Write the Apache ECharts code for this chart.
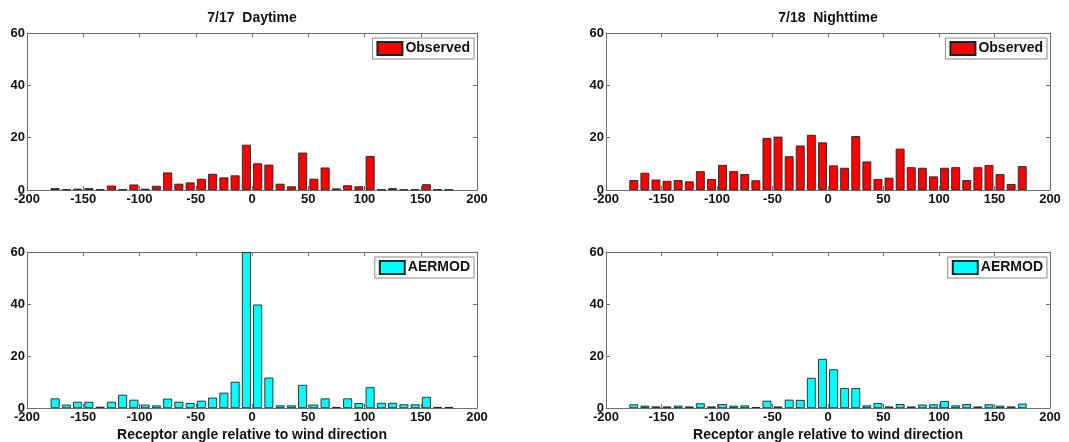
<!DOCTYPE html>
<html>
<head>
<meta charset="utf-8">
<script src="https://cdn.jsdelivr.net/npm/echarts@6/dist/echarts.min.js"></script>
<style>
  html, body { margin: 0; padding: 0; background: #fff; }
  #chart { width: 1069px; height: 442px; }
</style>
</head>
<body>
<div id="chart"></div>
<script>
// Bin centres (degrees), 10-degree bins
const binCenters = [-175, -165, -155, -145, -135, -125, -115, -105, -95, -85, -75, -65, -55, -45, -35, -25, -15, -5,
                    5, 15, 25, 35, 45, 55, 65, 75, 85, 95, 105, 115, 125, 135, 145, 155, 165, 175];

// 7/17 daytime, observed counts
const obsDay = [0.7, 0.2, 0.5, 0.7, 0.2, 1.7, 0.2, 2.1, 0.5, 1.6, 6.7, 2.4, 2.9, 4.3, 6.2, 4.8, 5.6, 17.3,
                10.2, 9.7, 2.4, 1.4, 14.3, 4.3, 8.6, 0.6, 1.8, 1.4, 13.0, 0.2, 0.7, 0.2, 0.2, 2.2, 0.2, 0.2];

// 7/18 nighttime, observed counts
const obsNight = [3.8, 6.6, 4.0, 3.5, 3.8, 3.3, 7.2, 4.2, 9.6, 7.2, 6.1, 3.7, 19.9, 20.4, 12.9, 17.0, 21.1, 18.2,
                  9.4, 8.5, 20.6, 10.9, 4.2, 4.7, 15.8, 8.7, 8.5, 5.2, 8.5, 8.7, 3.8, 8.7, 9.5, 6.1, 2.3, 9.1];

// 7/17 daytime, AERMOD counts
const modDay = [3.7, 1.3, 2.4, 2.4, 0.5, 2.4, 5.1, 3.2, 1.3, 1.0, 3.6, 2.4, 1.9, 2.8, 4.0, 5.9, 10.1, 60,
                39.8, 11.7, 1.0, 1.0, 8.9, 1.3, 3.7, 0.4, 3.7, 1.9, 8.0, 2.0, 2.0, 1.4, 1.4, 4.3, 0.4, 0.4];

// 7/18 nighttime, AERMOD counts
const modNight = [1.4, 0.9, 0.6, 0.6, 0.9, 0.6, 1.8, 0.6, 1.5, 0.9, 1.0, 0.4, 2.8, 0.6, 3.2, 3.1, 11.6, 18.9,
                  14.9, 7.7, 7.7, 1.0, 1.9, 0.6, 1.5, 0.6, 1.3, 1.4, 2.7, 1.0, 1.5, 0.6, 1.4, 0.9, 0.6, 1.7];

const xTicks = { min: -200, max: 200, interval: 50 };
const yTicks = { min: 0, max: 60, interval: 20 };

const panelTitles = ['7/17  Daytime', '7/18  Nighttime'];
const xAxisTitle = 'Receptor angle relative to wind direction';

const FONT = '"Liberation Sans", Arial, sans-serif';
const AXIS_GRAY = '#6f6f6f';
const RED = '#ff0000';
const CYAN = '#00ffff';
const W = 1069;

const grids = [
  { left: 27, top: 33, width: 450, height: 157 },
  { left: 606, top: 33, width: 444, height: 157 },
  { left: 27, top: 252, width: 450, height: 156 },
  { left: 606, top: 252, width: 444, height: 156 }
];

const panels = [
  { name: 'Observed', color: RED, values: obsDay },
  { name: 'Observed', color: RED, values: obsNight },
  { name: 'AERMOD', color: CYAN, values: modDay },
  { name: 'AERMOD', color: CYAN, values: modNight }
];

const labelStyle = { color: '#111', fontFamily: FONT, fontWeight: 'bold', fontSize: 13 };

function frameAxis(extra) {
  return Object.assign({
    type: 'value',
    axisLine: { show: true, onZero: false, lineStyle: { color: AXIS_GRAY, width: 1 } },
    axisTick: { show: true, inside: true, length: 4, lineStyle: { color: AXIS_GRAY } },
    splitLine: { show: false }
  }, extra);
}

const xAxes = [], yAxes = [], series = [], legends = [];
panels.forEach((p, i) => {
  // bottom axis with labels, top axis as plain frame with ticks
  xAxes.push(frameAxis({ gridIndex: i, position: 'bottom', min: xTicks.min, max: xTicks.max, interval: xTicks.interval,
    axisLabel: Object.assign({ margin: 3 }, labelStyle) }));
  xAxes.push(frameAxis({ gridIndex: i, position: 'top', min: xTicks.min, max: xTicks.max, interval: xTicks.interval,
    axisLabel: { show: false } }));
  // left axis with labels, right axis as plain frame with ticks
  yAxes.push(frameAxis({ gridIndex: i, position: 'left', min: yTicks.min, max: yTicks.max, interval: yTicks.interval,
    axisLabel: Object.assign({ margin: 2 }, labelStyle) }));
  yAxes.push(frameAxis({ gridIndex: i, position: 'right', min: yTicks.min, max: yTicks.max, interval: yTicks.interval,
    axisLabel: { show: false } }));

  series.push({
    type: 'bar', name: p.name,
    xAxisIndex: i * 2, yAxisIndex: i * 2,
    barWidth: '80%',
    data: binCenters.map((c, k) => [c, p.values[k]]),
    itemStyle: { color: p.color, borderColor: '#222', borderWidth: 0.9 },
    clip: true
  });

  const g = grids[i];
  legends.push({
    data: [{ name: p.name, icon: 'rect' }],
    orient: 'vertical',
    right: W - (g.left + g.width) + 3,
    top: g.top + 5,
    padding: [3, 4, 3, 4],
    itemWidth: 25, itemHeight: 13,
    backgroundColor: '#fff',
    borderColor: '#8a8a8a', borderWidth: 1,
    selectedMode: false,
    textStyle: { color: '#111', fontFamily: FONT, fontWeight: 'bold', fontSize: 14, padding: [0, 0, 0, -2] }
  });
});

const titleStyle = { fontFamily: FONT, fontWeight: 'bold', fontSize: 14, color: '#111' };

const option = {
  backgroundColor: '#fff',
  animation: false,
  title: [
    { text: panelTitles[0], left: grids[0].left + grids[0].width / 2, top: 11, padding: 0, textAlign: 'center', textStyle: titleStyle },
    { text: panelTitles[1], left: grids[1].left + grids[1].width / 2, top: 11, padding: 0, textAlign: 'center', textStyle: titleStyle },
    { text: xAxisTitle, left: grids[2].left + grids[2].width / 2, top: 428, padding: 0, textAlign: 'center', textStyle: titleStyle },
    { text: xAxisTitle, left: grids[3].left + grids[3].width / 2, top: 428, padding: 0, textAlign: 'center', textStyle: titleStyle }
  ],
  grid: grids.map(g => Object.assign({ containLabel: false }, g)),
  xAxis: xAxes,
  yAxis: yAxes,
  legend: legends,
  series: series
};

const chart = echarts.init(document.getElementById('chart'), null, { renderer: 'canvas' });
chart.setOption(option);
</script>
</body>
</html>
